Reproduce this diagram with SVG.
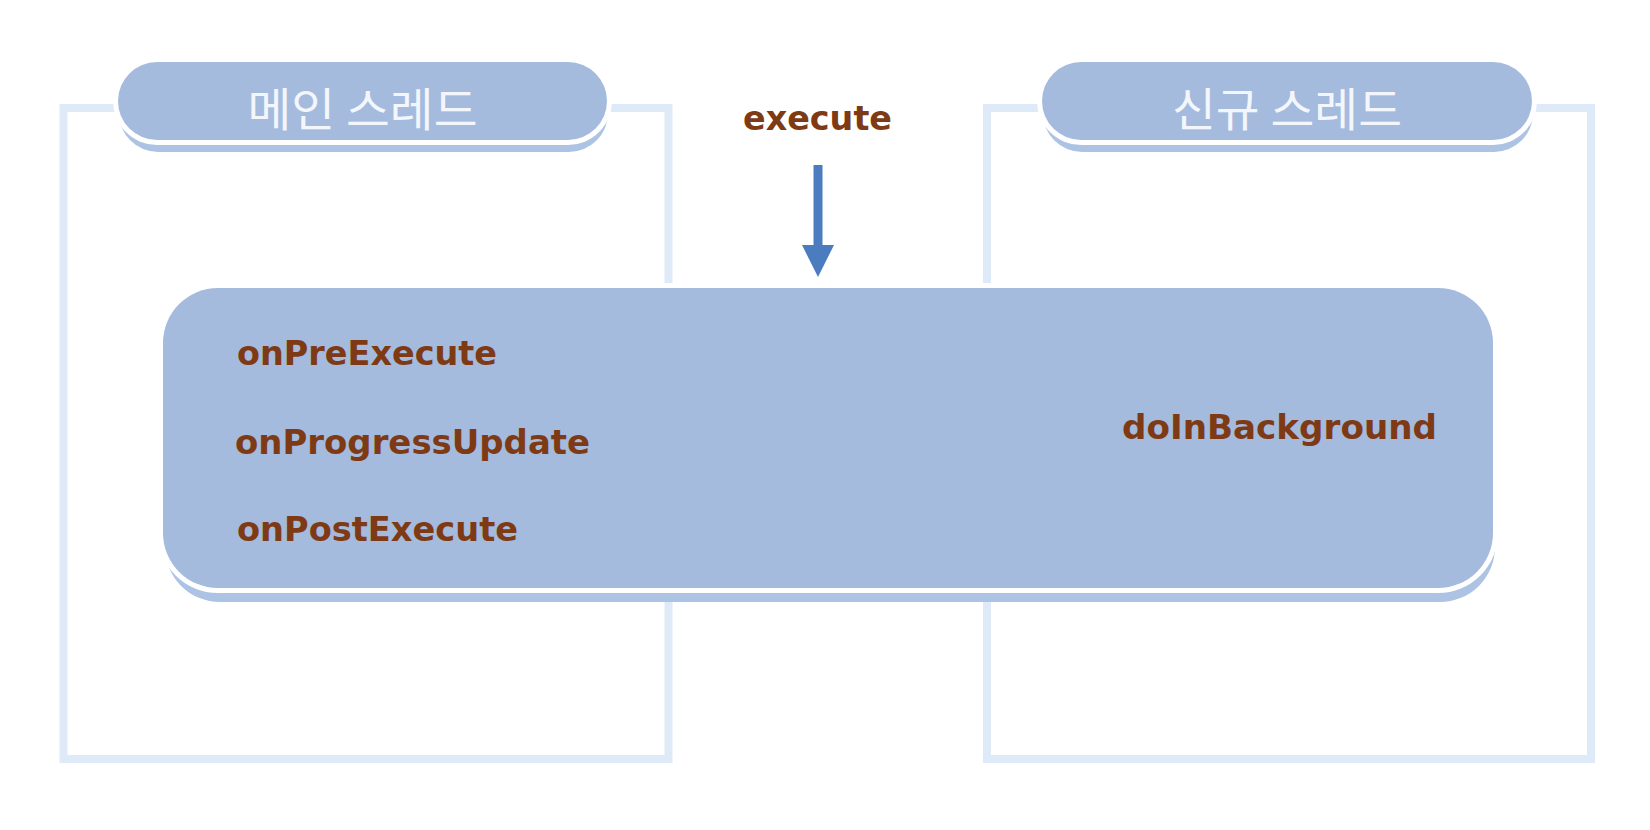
<svg xmlns="http://www.w3.org/2000/svg" width="1650" height="830" viewBox="0 0 1650 830">
  <defs>
    <style>
      .frame { fill: #ffffff; stroke: #dfeaf8; stroke-width: 8; }
      .pill { fill: #a4bbde; }
      .pill-shadow { fill: #adc3e3; }
      .outline { fill: #ffffff; }
      .title { font-family: "Noto Sans CJK KR", "Noto Sans", sans-serif; font-size: 46px; font-weight: 400; fill: #f3f6fc; text-anchor: middle; }
      .method { font-family: "DejaVu Sans", "Noto Sans", sans-serif; font-weight: bold; font-size: 33px; fill: #7e3a14; }
      .conn { stroke: #4a7cbf; stroke-width: 9; fill: none; }
    </style>
    <marker id="head" markerUnits="userSpaceOnUse" markerWidth="32" markerHeight="32" refX="0" refY="16" orient="auto">
      <path d="M0,0 L32,16 L0,32 Z" fill="#4a7cbf"/>
    </marker>
  </defs>
  <rect width="1650" height="830" fill="#ffffff"/>

  <g id="main-thread">
    <rect class="frame" x="63.5" y="108" width="605" height="651"/>
    <rect class="pill-shadow" x="119" y="74" width="489" height="78" rx="39"/>
    <rect class="outline" x="113" y="57" width="499" height="88" rx="44"/>
    <rect class="pill" x="118" y="62" width="489" height="78" rx="39"/>
    <text class="title" x="362.5" y="126" textLength="230" lengthAdjust="spacingAndGlyphs">메인 스레드</text>
  </g>

  <g id="new-thread">
    <rect class="frame" x="987" y="108" width="604" height="651"/>
    <rect class="pill-shadow" x="1043" y="74" width="490" height="78" rx="39"/>
    <rect class="outline" x="1037" y="57" width="500" height="88" rx="44"/>
    <rect class="pill" x="1042" y="62" width="490" height="78" rx="39"/>
    <text class="title" x="1287" y="126" textLength="230" lengthAdjust="spacingAndGlyphs">신규 스레드</text>
  </g>

  <g id="asynctask">
    <rect class="pill-shadow" x="165" y="302" width="1330" height="300" rx="55"/>
    <rect class="outline" x="158" y="283" width="1340" height="310" rx="60"/>
    <rect class="pill" x="163" y="288" width="1330" height="300" rx="55"/>
    <text class="method" x="237" y="365" textLength="260" lengthAdjust="spacingAndGlyphs">onPreExecute</text>
    <text class="method" x="235" y="454" textLength="355" lengthAdjust="spacingAndGlyphs">onProgressUpdate</text>
    <text class="method" x="237" y="541" textLength="281" lengthAdjust="spacingAndGlyphs">onPostExecute</text>
    <text class="method" x="1122" y="439" textLength="315" lengthAdjust="spacingAndGlyphs">doInBackground</text>
  </g>

  <g id="execute">
    <text class="method" x="743" y="130" font-size="36" textLength="149" lengthAdjust="spacingAndGlyphs">execute</text>
  </g>

  <g id="connectors">
    <line class="conn" x1="818" y1="165" x2="818" y2="245" marker-end="url(#head)"/>
  </g>
</svg>
